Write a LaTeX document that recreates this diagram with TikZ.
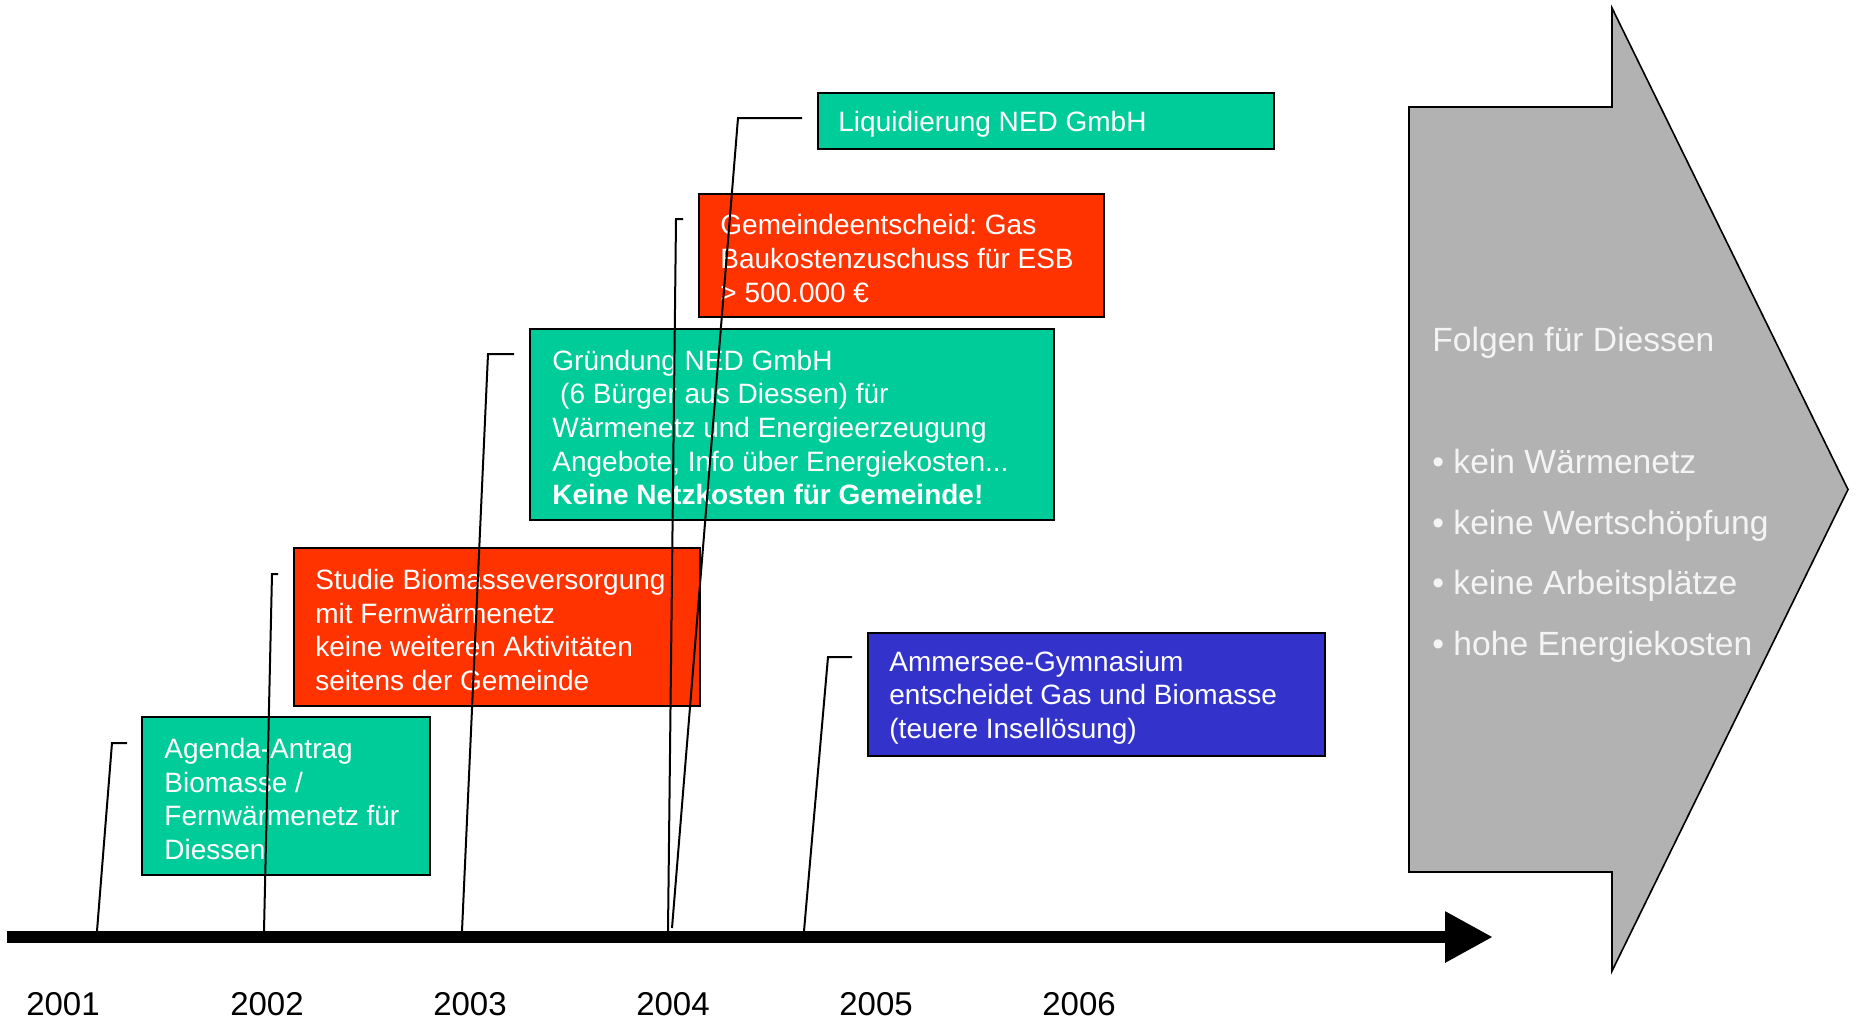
\documentclass[tikz,border=0pt]{standalone}
\usepackage{fontspec}
\setmainfont{Liberation Sans}
\frenchspacing
\usetikzlibrary{fit,arrows.meta}
\definecolor{tgreen}{RGB}{0,204,153}
\definecolor{tred}{RGB}{255,51,0}
\definecolor{tblue}{RGB}{51,51,204}
\definecolor{tgrey}{RGB}{178,178,178}
\definecolor{ttext}{RGB}{244,244,244}
\begin{document}
\begin{tikzpicture}[x=0.5pt,y=-0.5pt,
  evbox/.style={draw=black, line width=1pt, inner sep=0pt},
  evtext/.style={text=white, align=left, inner sep=0pt, anchor=west,
    font=\fontsize{14}{16.85}\selectfont},
  conn/.style={draw=black, line width=1pt, line join=miter},
  year/.style={inner sep=0pt, font=\fontsize{16.5}{20}\selectfont},
  follow/.style={text=ttext, align=left, inner sep=0pt, anchor=west,
    font=\fontsize{16.8}{30.4}\selectfont}]
\useasboundingbox (0,0) rectangle (1856,1019);

% big grey arrow
\draw[fill=tgrey, draw=black, line width=0.8pt, line join=miter]
  (1409,107) -- (1612,107) -- (1612,8) -- (1848,489.5) -- (1612,971)
  -- (1612,872) -- (1409,872) -- cycle;
\node[follow] (folgen) at (1432,495) {Folgen für Diessen\\[0pt]\mbox{}\\
  • kein Wärmenetz\\
  • keine Wertschöpfung\\
  • keine Arbeitsplätze\\
  • hohe Energiekosten};

% timeline
\coordinate (t0) at (7,937);
\coordinate (t1) at (1493,937);
\draw[line width=6pt, -{Triangle[length=24pt,width=24pt]}] (t0) -- (t1);

% years
\node[year] (y1) at (63,1004) {2001};
\node[year] (y2) at (267,1004) {2002};
\node[year] (y3) at (470,1004) {2003};
\node[year] (y4) at (673,1004) {2004};
\node[year] (y5) at (876,1004) {2005};
\node[year] (y6) at (1079,1004) {2006};

% event boxes
\node[evbox, fill=tgreen, fit={(818,93) (1274,149)}] (liq) {};
\node[evtext] (liqT) at ([xshift=10.5pt,yshift=-1.5pt]liq.west) {Liquidierung NED GmbH};

\node[evbox, fill=tred, fit={(699,194) (1104,317)}] (gem) {};
\node[evtext] (gemT) at ([xshift=11pt,yshift=-1.5pt]gem.west) {Gemeindeentscheid: Gas\\Baukostenzuschuss für ESB\\> 500.000 €};

\node[evbox, fill=tgreen, fit={(530,329) (1054,520)}] (gru) {};
\node[evtext] (gruT) at ([xshift=11.5pt,yshift=-1.5pt]gru.west) {Gründung NED GmbH\\\ (6 Bürger aus Diessen) für\\Wärmenetz und Energieerzeugung\\Angebote, Info über Energiekosten...\\\textbf{Keine Netzkosten für Gemeinde!}};

\node[evbox, fill=tred, fit={(294,548) (700,706)}] (stu) {};
\node[evtext] (stuT) at ([xshift=11pt,yshift=-1.5pt]stu.west) {Studie Biomasseversorgung\\mit Fernwärmenetz\\keine weiteren Aktivitäten\\seitens der Gemeinde};

\node[evbox, fill=tgreen, fit={(142,717) (430,875)}] (age) {};
\node[evtext] (ageT) at ([xshift=11.5pt,yshift=-1.5pt]age.west) {Agenda-Antrag\\Biomasse /\\Fernwärmenetz für\\Diessen};

\node[evbox, fill=tblue, fit={(868,633) (1325,756)}] (amm) {};
\node[evtext] (ammT) at ([xshift=11pt,yshift=-1.5pt]amm.west) {Ammersee-Gymnasium\\entscheidet Gas und Biomasse\\(teuere Insellösung)};

% connectors
\coordinate (a1) at (97,931);  \coordinate (k1) at (112,743); \coordinate (e1) at (127,743);
\coordinate (a2) at (264,931); \coordinate (k2) at (272,574); \coordinate (e2) at (278,574);
\coordinate (a3) at (462,931); \coordinate (k3) at (488,354); \coordinate (e3) at (514,354);
\coordinate (a4) at (668,931); \coordinate (k4) at (676,219); \coordinate (e4) at (683,219);
\coordinate (a5) at (672,928); \coordinate (k5) at (738,118); \coordinate (e5) at (802,118);
\coordinate (a6) at (804,931); \coordinate (k6) at (828,657); \coordinate (e6) at (852,657);
\draw[conn] (a1) -- (k1) -- (e1);
\draw[conn] (a2) -- (k2) -- (e2);
\draw[conn] (a3) -- (k3) -- (e3);
\draw[conn] (a4) -- (k4) -- (e4);
\draw[conn] (a5) -- (k5) -- (e5);
\draw[conn] (a6) -- (k6) -- (e6);
\end{tikzpicture}
\end{document}
